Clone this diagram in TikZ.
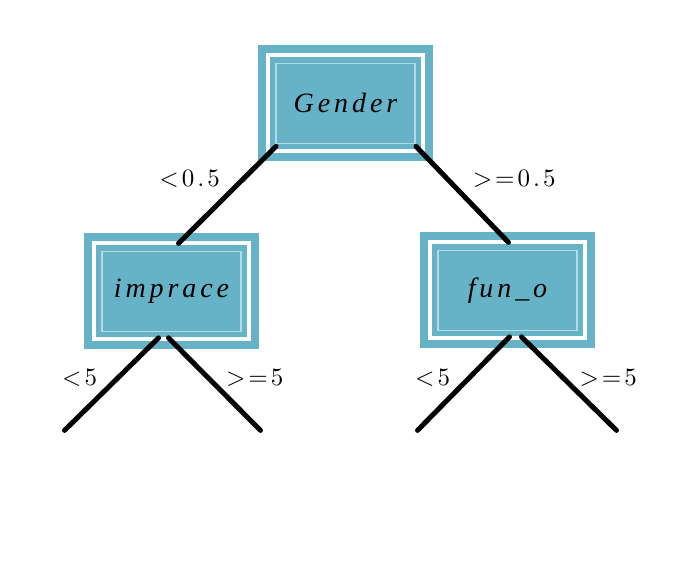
\documentclass[tikz,border=0pt]{standalone}
\usepackage{fontspec}
\usepackage{tikz}
\usetikzlibrary{positioning,calc}
\newfontfamily\nodefont[LetterSpace=14]{Liberation Serif}
\newfontfamily\edgefont[Extension=.otf,LetterSpace=12]{lmroman10-regular}
\definecolor{boxteal}{HTML}{66B3C7}
\definecolor{boxline}{HTML}{B4DBE5}

\begin{document}
\begin{tikzpicture}[x=1pt, y=1pt, node distance=2mm]
	\tikzset{
    	mynode/.style={rectangle, fill=boxteal, draw=white, line width=4pt, outer sep=0pt,
    		minimum width=155pt, minimum height=96pt, text centered,
    		font=\fontsize{28}{32}\selectfont\nodefont\itshape,
    		preaction={draw=boxteal, line width=20pt},
    		path picture={\draw[boxline, line width=1.3pt] ([shift={(8pt,-8pt)}]path picture bounding box.north west) rectangle ([shift={(-8pt,8pt)}]path picture bounding box.south east);}},
	    myarrow/.style={line width=5pt, line cap=round},
	    mylabel/.style={inner sep=0pt, font=\fontsize{25}{29}\selectfont\edgefont}
	}
	\useasboundingbox (0,0) rectangle (689,580);
	\node[mynode] (gender) at (345.5,476.6) {Gender};
	\node[mynode, below left=92pt and 19pt of gender] (imprace) {imprace};
	\node[mynode, below right=91pt and 7pt of gender] (funo) {fun\_o};
	\coordinate (leafa) at ([shift={(-107pt,-139pt)}]imprace.center);
	\coordinate (leafb) at ([shift={(89pt,-139pt)}]imprace.center);
	\coordinate (leafc) at ([shift={(-90pt,-140pt)}]funo.center);
	\coordinate (leafd) at ([shift={(109pt,-140pt)}]funo.center);

	\draw[myarrow] ([shift={(8pt,5pt)}]gender.south west) -- ([xshift=7pt]imprace.north) node [midway, mylabel, above left=4.5pt and 5pt] {<0.5};
	\draw[myarrow] ([shift={(-7pt,5pt)}]gender.south east) -- ([xshift=1pt]funo.north) node [midway, mylabel, above right=4.5pt and 8pt] {>=0.5};
	\draw[myarrow] ([shift={(-13pt,1.5pt)}]imprace.south) -- (leafa) node [midway, mylabel, above left=-5pt and 12pt] {<5};
	\draw[myarrow] ([shift={(-3pt,1.5pt)}]imprace.south) -- (leafb) node [midway, mylabel, above right=-5pt and 9pt] {>=5};
	\draw[myarrow] ([shift={(2pt,1.5pt)}]funo.south) -- (leafc) node [midway, mylabel, above left=-5pt and 11pt] {<5};
	\draw[myarrow] ([shift={(14pt,1.5pt)}]funo.south) -- (leafd) node [midway, mylabel, above right=-5pt and 8pt] {>=5};
\end{tikzpicture}
\end{document}
